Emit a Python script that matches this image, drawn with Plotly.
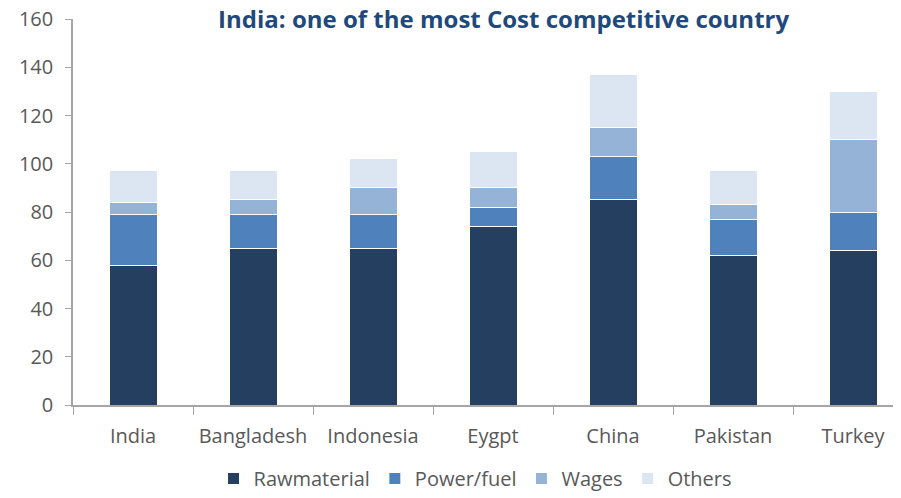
import plotly.graph_objects as go

countries = ["India", "Bangladesh", "Indonesia", "Eygpt", "China", "Pakistan", "Turkey"]
rawmaterial = [58, 65, 65, 74, 85, 62, 64]
power_fuel = [21, 14, 14, 8, 18, 15, 16]
wages = [5, 6, 11, 8, 12, 6, 30]
others = [13, 12, 12, 15, 22, 14, 20]

series = [
    ("Rawmaterial", rawmaterial, "#243F60"),
    ("Power/fuel", power_fuel, "#4F81BD"),
    ("Wages", wages, "#95B3D7"),
    ("Others", others, "#DCE6F2"),
]

fig = go.Figure()
for name, vals, color in series:
    fig.add_trace(go.Bar(
        x=countries, y=vals, name=name,
        marker=dict(color=color, line=dict(color="white", width=1)),
        width=0.4,
    ))

font_family = "Open Sans, Lato, sans-serif"
fig.update_layout(
    barmode="stack",
    width=893, height=490,
    margin=dict(l=65, r=0, t=11, b=93, autoexpand=False),
    plot_bgcolor="white", paper_bgcolor="white",
    font=dict(family=font_family, size=20, color="#595959"),
    title=dict(
        text="<b>India: one of the most Cost competitive country</b>",
        x=0.555, xref="container", xanchor="center",
        y=0.994, yref="container", yanchor="top", pad=dict(t=0, b=0),
        font=dict(size=24, color="#1F497D", family=font_family),
    ),
    showlegend=True,
    legend=dict(
        orientation="h", x=0.523, xref="container", xanchor="center",
        y=-0.008, yref="container", yanchor="bottom",
        font=dict(size=20, color="#595959"), traceorder="normal",
    ),
)
fig.update_xaxes(
    range=[-0.5, 6.4], automargin=False,
    showline=True, linecolor="#A6A6A6", linewidth=1.5,
    ticks="outside", tickson="boundaries", ticklen=8, tickcolor="#A6A6A6",
    ticklabelstandoff=12,
    showgrid=False, tickfont=dict(size=20, color="#595959"),
)
fig.update_yaxes(
    range=[0, 160], dtick=20, automargin=False,
    showline=True, linecolor="#A6A6A6", linewidth=1.5,
    ticks="outside", ticklen=6, tickcolor="#A6A6A6",
    ticklabelstandoff=8, ticklabeloverflow="allow",
    showgrid=False, zeroline=False, tickfont=dict(size=20, color="#595959"),
)

fig.write_html("out.html")
